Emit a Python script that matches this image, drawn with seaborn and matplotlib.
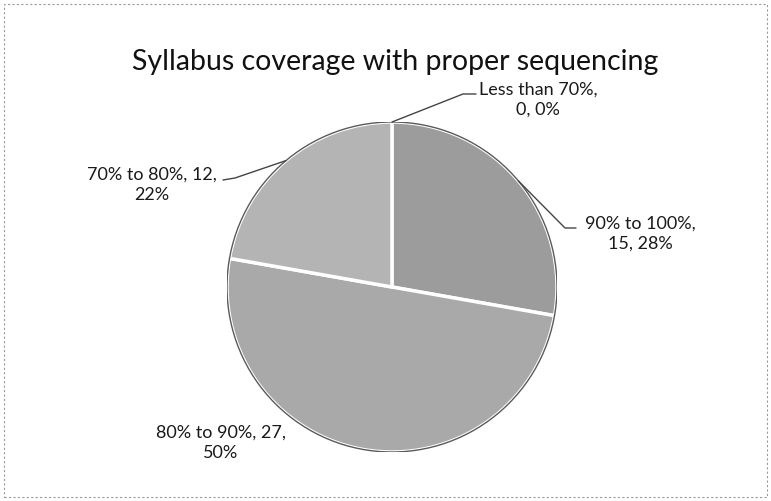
import numpy as np
import matplotlib.pyplot as plt
import seaborn as sns

categories = ['Less than 70%', '90% to 100%', '80% to 90%', '70% to 80%']
counts = [0, 15, 27, 12]
percents = ['0%', '28%', '50%', '22%']
label_lines = [
    'Less than 70%,\n0, 0%',
    '90% to 100%,\n15, 28%',
    '80% to 90%, 27,\n50%',
    '70% to 80%, 12,\n22%',
]

sns.set_theme(style="white")
plt.rcParams['font.family'] = ['Lato', 'DejaVu Sans']

W, H = 771, 501
fig = plt.figure(figsize=(W / 100, H / 100), dpi=100)
fig.patch.set_facecolor('white')

# pie centre / radius in pixels
cx, cy, r = 392, 287, 165
ax = fig.add_axes([(cx - r) / W, (H - cy - r) / H, 2 * r / W, 2 * r / H])

colors = ['#a0a0a0', '#9c9c9c', '#a9a9a9', '#b4b4b4']
wedges, _ = ax.pie(
    counts,
    colors=colors,
    startangle=90,
    counterclock=False,
    radius=1,
    wedgeprops={'edgecolor': 'white', 'linewidth': 2.5},
)
outline = plt.Circle((0, 0), 1, fill=False, edgecolor='#5a5a5a', linewidth=1.0)
ax.add_patch(outline)
ax.set_xlim(-1, 1)
ax.set_ylim(-1, 1)
ax.set_aspect('equal')
ax.axis('off')


def px(x, y):
    return (x - cx) / r, (cy - y) / r


# label centres (pixels) and leader path ends
label_pos = [(538, 100), (640, 234), (221, 443), (152, 185)]
leader_pts = [
    [(463, 94), (476, 94)],
    [(565, 228), (576, 228)],
    None,
    [(235, 178), (223, 180)],
]

for i, w in enumerate(wedges):
    mid = np.deg2rad((w.theta1 + w.theta2) / 2)
    tx, ty = px(*label_pos[i])
    ax.text(tx, ty, label_lines[i], ha='center', va='center', fontsize=13,
            color='#1a1a1a', linespacing=1.3, clip_on=False)
    if leader_pts[i] is not None:
        pts = [(np.cos(mid), np.sin(mid))] + [px(*p) for p in leader_pts[i]]
        xs, ys = zip(*pts)
        ax.plot(xs, ys, color='#444444', linewidth=1.0, clip_on=False)

fig.text(395 / W, 1 - 62 / H, 'Syllabus coverage with proper sequencing',
         ha='center', va='center', fontsize=20.5, color='#111111')

# dashed border of the chart area
border = plt.Rectangle((4 / W, 4 / H), 1 - 8 / W, 1 - 8 / H, transform=fig.transFigure,
                       fill=False, edgecolor='#9a9a9a', linewidth=0.8, linestyle=(0, (2, 2)))
fig.patches.append(border)

fig.savefig('out.png', dpi=100)
